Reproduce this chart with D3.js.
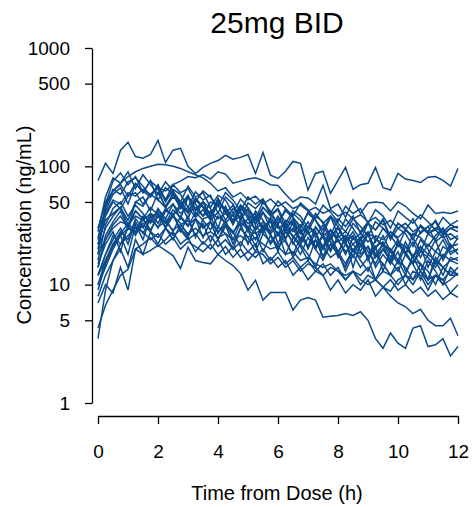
<!DOCTYPE html>
<html>
<head>
<meta charset="utf-8">
<script src="https://cdn.jsdelivr.net/npm/d3@7"></script>
<style>
  body { margin: 0; background: #fff; }
  svg { display: block; font-family: "Liberation Sans", Arial, Helvetica, sans-serif; }
</style>
</head>
<body>
<svg width="472" height="507"></svg>
<script>
// sampling times (h)
const times = [0, 0.25, 0.5, 0.75, 1, 1.25, 1.5, 1.75, 2, 2.25, 2.5, 2.75, 3, 3.25, 3.5, 3.75,
  4, 4.25, 4.5, 4.75, 5, 5.25, 5.5, 5.75, 6, 6.25, 6.5, 6.75, 7, 7.25, 7.5, 7.75,
  8, 8.25, 8.5, 8.75, 9, 9.25, 9.5, 9.75, 10, 10.25, 10.5, 10.75, 11, 11.25, 11.5, 11.75, 12];

// concentrations (ng/mL), one array per subject
const subjA = [76,106,87,137,160,121,117,126,166,108,137,142,100,87,98,106,112,124,115,119,126,87,131,84,79,91,110,106,63,87,91,59,76,98,64,70,72,98,66,63,87,78,76,73,81,82,76,68,96];
const subjB = [30,40,52,48,60,56,64,58,66,62,70,75,82,80,85,78,90,86,72,75,78,80,76,70,69,58,50,55,54,48,69,44,48,37,52,40,49,50,49,42,50,46,40,36,47,40,41,40,42];
const subjC = [20,45,62,72,82,90,96,100,104,103,100,96,90,85,80,72,62,66,55,60,52,56,48,53,46,50,44,47,42,45,40,43,38,41,36,39,34,37,32,35,30,33,28,31,27,29,25,27,24];
const subjF = [4.3,6.7,9,12,13.5,20,18,19.5,21.5,19.5,17.6,13.7,20.7,16,15.4,15,18,16,14.5,12.4,9,10.9,7.4,8.6,8.6,8.6,6.1,7.4,7.8,7.4,5.3,5.4,5.5,5.7,5.5,5.9,5.0,3.5,2.9,3.9,3.2,2.9,4.3,4.5,3.0,3.1,3.5,2.5,3.0];
const subjG = [10,16,22,26,30,28,33,35,31,34,29,32,27,30,26,28,25,27,24,26,23,25,22,20,21,18,19,16,17,15,14,15,13,12,13,11,10,11,9.5,8,7,6.5,5.7,6.2,5.0,4.5,4.5,5.2,3.7];
const subjH = [7,10,8.5,14,9,20,22,25,21,24,28,22,25,19,23,20,24,18,21,17,19,22,15,17,14,16,12,14,11,13,12,9,11,8.5,10,9,11,8,9.5,8.8,11,12,10,13,11,12,10,11,12.5];
const subjL1 = [3.5,9,16,22,26,30,28,24,27,22,25,20,23,21,19,22,18,21,17,20,16,19,18,15,17,14,16,13,15,14,12,14,13,11,13,12,14,11,13,12,10,12,11,13,10,12,11,13,12];
const subjL2 = [18,24,30,34,32,38,35,40,37,42,39,45,41,44,38,42,36,40,34,38,33,36,31,35,30,33,28,32,27,30,26,29,25,28,24,27,23,26,24,28,25,29,26,31,27,30,28,32,30];
const subjL3 = [12,18,26,22,30,27,32,28,25,30,26,29,24,27,22,26,21,24,20,23,19,17,20,16,19,15,17,14,16,13,15,12,14,11,13,10,12,11,9.5,11,9,10,8.5,9.5,8,9,7.5,8.5,7.8];
const subjM1 = [25,42,58,66,48,71,62,55,69,50,64,58,45,61,52,57,40,55,48,36,49,44,52,39,44,33,42,38,30,40,33,38,26,36,30,24,33,29,35,24,30,27,21,28,31,23,26,20,25];
const subjM2 = [18,48,75,88,70,82,60,76,52,66,58,44,55,48,38,50,47,35,44,40,30,42,35,28,36,30,34,24,31,27,21,29,24,18,25,22,27,17,22,19,15,21,17,13,18,16,12,17,16];
const subjM3 = [12,16,22,28,24,36,30,40,33,44,38,48,36,52,45,39,50,44,35,46,40,32,45,38,43,30,40,35,28,38,34,26,36,31,38,27,33,29,36,25,33,30,24,32,28,35,27,30,31];
const subjM4 = [20,30,38,45,35,50,55,42,60,46,58,50,40,54,45,36,48,42,32,44,38,29,41,34,26,35,32,24,31,28,20,29,23,26,19,24,28,18,22,20,16,23,17,21,14,19,17,22,18];
const subjM5 = [15,22,28,19,32,26,36,29,38,31,40,28,38,25,36,38,27,35,24,34,29,21,31,27,19,30,26,22,28,20,26,23,18,26,22,25,17,24,22,15,23,21,17,24,20,15,21,19,20];
const subjM6 = [28,55,80,72,90,65,85,70,58,74,62,50,68,55,60,45,57,52,40,53,45,36,50,42,32,44,37,30,41,35,27,37,31,24,33,28,34,23,30,26,21,29,25,19,27,24,30,21,22];
const subjM7 = [10,14,20,26,18,32,24,38,30,42,48,36,55,44,50,38,52,42,33,47,36,40,28,37,31,24,34,28,21,31,25,19,26,22,17,24,19,15,20,16,13,18,15,11,16,13,10,14,12];
const subjM8 = [22,35,40,45,32,42,36,28,40,34,38,30,25,36,30,34,24,31,28,33,22,31,27,35,26,30,22,29,28,20,27,25,31,23,26,19,27,25,21,28,24,18,27,25,21,26,30,24,26];
const subjM9 = [14,26,34,42,30,50,46,58,65,44,60,48,56,38,50,44,30,46,34,42,28,38,30,35,22,33,25,30,20,28,17,26,19,24,14,22,17,21,13,20,16,12,18,15,11,17,14,16,15];
const subjM10 = [8,12,16,20,14,24,18,28,22,30,24,32,35,26,33,23,31,27,20,30,25,19,27,23,28,18,25,21,16,24,20,26,17,22,19,25,16,21,23,17,22,19,15,21,18,24,16,21,22];
const subjM11 = [30,50,62,70,56,72,60,75,66,52,70,60,65,50,62,55,46,60,52,42,55,48,53,40,51,44,38,49,43,36,47,41,34,46,40,44,33,43,38,30,42,37,33,39,34,29,37,32,35];
const subjM12 = [16,32,44,50,38,47,40,33,44,36,28,38,32,36,25,34,28,32,22,30,25,28,19,26,21,24,17,22,18,14,21,17,19,13,18,14,17,11,15,12,14,10,13,12,9,12,11,8.5,10];
const subjM13 = [12,18,24,30,22,34,27,37,40,30,38,33,26,36,31,34,24,33,28,21,31,27,30,22,27,23,18,25,21,24,17,22,19,15,20,17,21,14,18,15,19,13,16,15,11,16,14,12,14];
const subjM14 = [22,38,50,44,56,60,48,58,52,45,55,49,42,53,46,40,50,44,38,47,42,35,45,39,33,42,37,31,40,35,29,38,33,28,36,31,26,34,30,25,33,29,36,27,31,34,26,30,28];
const subjM15 = [9,15,21,27,33,28,38,34,42,36,48,40,45,37,43,35,41,33,39,31,36,29,34,27,32,25,30,23,28,21,26,20,24,19,22,18,21,17,20,16,22,18,15,19,17,14,18,16,17];
const subjM16 = [24,46,64,58,74,80,68,56,70,52,62,46,57,42,50,38,54,40,47,35,44,33,41,30,38,29,36,27,34,25,32,24,30,23,28,21,27,20,26,19,24,18,23,17,22,19,24,18,20];
const subjM17 = [14,24,32,38,30,42,36,45,39,33,43,37,31,41,35,29,38,33,27,36,30,24,32,26,20,28,23,18,25,20,16,22,18,14,20,16,13,18,15,12,16,14,11,15,13,10,14,12,12];

const xTicks = [0, 2, 4, 6, 8, 10, 12];
const yTicks = [1, 5, 10, 50, 100, 500, 1000];

const subjects = [subjA, subjB, subjC, subjF, subjG, subjH, subjL1, subjL2, subjL3,
  subjM1, subjM2, subjM3, subjM4, subjM5, subjM6, subjM7, subjM8, subjM9, subjM10,
  subjM11, subjM12, subjM13, subjM14, subjM15, subjM16, subjM17];

const lineColor = "#0b4a8a";
let svg = d3.select("svg");

let xScale = d3.scaleLinear().domain([0, 12]).range([98, 458]);
let yScale = d3.scaleLog().domain([1, 1000]).range([403, 48]);

// profiles
let line = d3.line()
  .x((d, i) => xScale(times[i]))
  .y((d) => yScale(d));

svg.append("g")
  .selectAll("path")
  .data(subjects)
  .enter()
  .append("path")
  .attr("d", (d) => line(d))
  .attr("fill", "none")
  .attr("stroke", lineColor)
  .attr("stroke-width", 1.5)
  .attr("stroke-linejoin", "miter");

// axes (R style: detached)
let xAxis = d3.axisBottom(xScale).tickValues(xTicks).tickSize(8).tickPadding(21).tickSizeOuter(0);
let yAxis = d3.axisLeft(yScale).tickValues(yTicks).tickFormat(d3.format("d")).tickSize(7).tickPadding(15).tickSizeOuter(0);

let gx = svg.append("g")
  .attr("transform", "translate(0,416)")
  .call(xAxis);
let gy = svg.append("g")
  .attr("transform", "translate(92,0)")
  .call(yAxis);

[gx, gy].forEach((g) => {
  g.select(".domain").attr("stroke", "#000").attr("stroke-width", 1.3);
  g.selectAll(".tick line").attr("stroke", "#000").attr("stroke-width", 1.3);
  g.selectAll(".tick text").attr("fill", "#000").style("font-size", "19px")
    .style("font-family", "'Liberation Sans', Arial, Helvetica, sans-serif");
});

// title + axis titles
svg.append("text")
  .attr("x", 277)
  .attr("y", 33)
  .attr("text-anchor", "middle")
  .style("font-size", "30px")
  .text("25mg BID");

svg.append("text")
  .attr("x", 277)
  .attr("y", 500)
  .attr("text-anchor", "middle")
  .style("font-size", "20px")
  .text("Time from Dose (h)");

svg.append("text")
  .attr("transform", "translate(31,225) rotate(-90)")
  .attr("text-anchor", "middle")
  .style("font-size", "20px")
  .text("Concentration (ng/mL)");
</script>
</body>
</html>
